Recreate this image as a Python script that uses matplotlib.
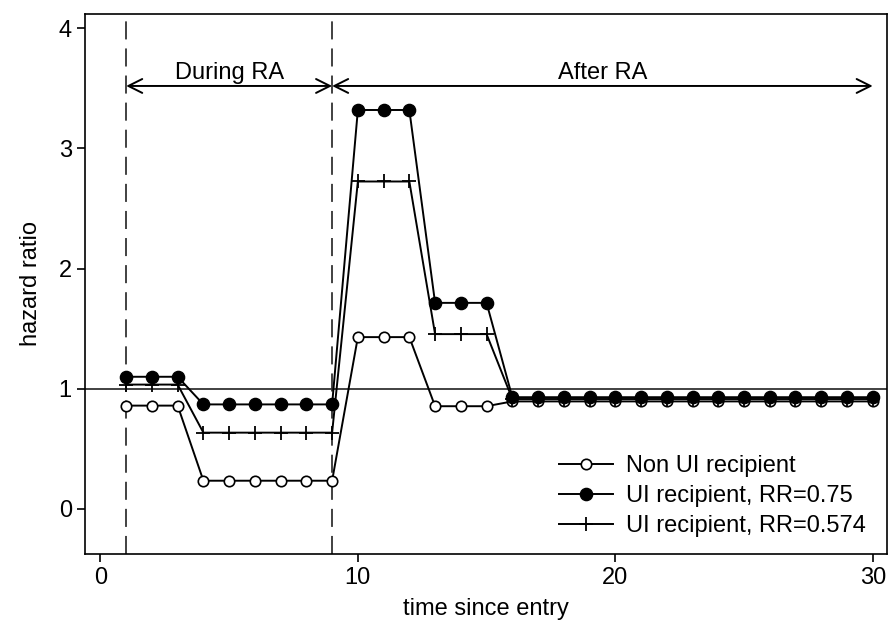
import matplotlib
matplotlib.use("Agg")
import matplotlib.pyplot as plt

plt.rcParams['font.family'] = ['Liberation Sans', 'DejaVu Sans']

time = [1, 2, 3, 4, 5, 6, 7, 8, 9, 10, 11, 12, 13, 14, 15,
        16, 17, 18, 19, 20, 21, 22, 23, 24, 25, 26, 27, 28, 29, 30]
non_ui = [0.86, 0.86, 0.86, 0.235, 0.235, 0.235, 0.235, 0.235, 0.235,
          1.43, 1.43, 1.43, 0.855, 0.855, 0.855,
          0.895, 0.895, 0.895, 0.895, 0.895, 0.895, 0.895, 0.895, 0.895,
          0.895, 0.895, 0.895, 0.895, 0.895, 0.895]
ui_075 = [1.10, 1.10, 1.10, 0.87, 0.87, 0.87, 0.87, 0.87, 0.87,
          3.32, 3.32, 3.32, 1.715, 1.715, 1.715,
          0.93, 0.93, 0.93, 0.93, 0.93, 0.93, 0.93, 0.93, 0.93,
          0.93, 0.93, 0.93, 0.93, 0.93, 0.93]
ui_0574 = [1.035, 1.035, 1.035, 0.635, 0.635, 0.635, 0.635, 0.635, 0.635,
           2.725, 2.725, 2.725, 1.455, 1.455, 1.455,
           0.915, 0.915, 0.915, 0.915, 0.915, 0.915, 0.915, 0.915, 0.915,
           0.915, 0.915, 0.915, 0.915, 0.915, 0.915]
labels = ["Non UI recipient", "UI recipient, RR=0.75", "UI recipient, RR=0.574"]
ra_start, ra_end, t_end = 1, 9, 30

fs = 17
fig = plt.figure(figsize=(8.89, 6.30), dpi=100)
ax = fig.add_axes([0.0956, 0.1206, 0.902, 0.8574])

ax.axhline(1, color='#333333', lw=1.3, zorder=1)
ax.axvline(ra_start, color='#333333', lw=1.3, ls=(0, (10, 5)), zorder=1)
ax.axvline(ra_end, color='#333333', lw=1.3, ls=(0, (10, 5)), zorder=1)

ax.plot(time, non_ui, color='black', lw=1.4, marker='o', ms=7.5,
        mfc='white', mec='black', mew=1.2, label=labels[0], zorder=3)
ax.plot(time, ui_075, color='black', lw=1.4, marker='o', ms=8.8,
        mfc='black', mec='black', label=labels[1], zorder=3)
ax.plot(time, ui_0574, color='black', lw=1.4, marker='+', ms=10,
        mew=1.3, label=labels[2], zorder=3)

arrow_y = 3.52
for a, b in [(ra_start, ra_end), (ra_end, t_end)]:
    ax.annotate('', xy=(b, arrow_y), xytext=(a, arrow_y),
                arrowprops=dict(arrowstyle='<->,head_length=0.5,head_width=0.25',
                                color='black', lw=1.4,
                                mutation_scale=20, shrinkA=0, shrinkB=0))
ax.text((ra_start + ra_end) / 2, 3.625, 'During RA', ha='center', va='center', fontsize=fs)
ax.text((ra_end + t_end) / 2, 3.625, 'After RA', ha='center', va='center', fontsize=fs)

ax.set_xlim(-0.6, 30.55)
ax.set_ylim(-0.375, 4.12)
ax.set_xticks([0, 10, 20, 30])
ax.set_yticks([0, 1, 2, 3, 4])
ax.tick_params(labelsize=fs, length=6, width=1.2, direction='out')
ax.set_xlabel('time since entry', fontsize=fs, labelpad=6)
ax.set_ylabel('hazard ratio', fontsize=fs, labelpad=12)
for s in ax.spines.values():
    s.set_linewidth(1.2)

ax.legend(loc='lower right', frameon=False, fontsize=fs, numpoints=1,
          handlelength=2.3, handletextpad=0.55, labelspacing=0.35,
          borderaxespad=0.3, bbox_to_anchor=(0.995, 0.0))

fig.savefig('out.png', dpi=100)
